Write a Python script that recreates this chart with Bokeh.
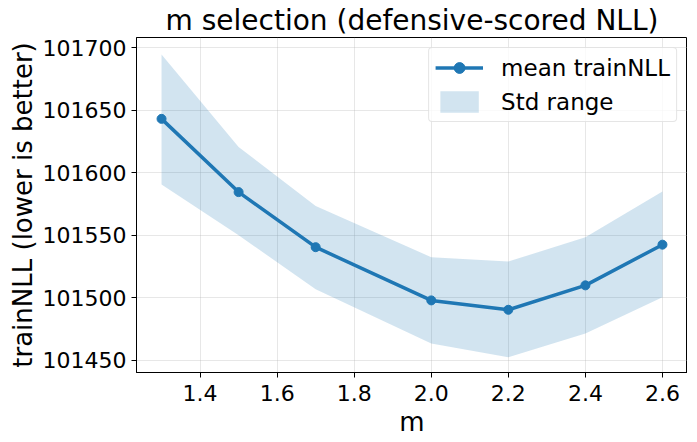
from bokeh.plotting import figure
from bokeh.models import Range1d, FixedTicker, NumeralTickFormatter, Legend, LegendItem, ColumnDataSource
from bokeh.embed import file_html
from bokeh.resources import INLINE

m_values = [1.3, 1.5, 1.7, 2.0, 2.2, 2.4, 2.6]
mean_nll = [101643, 101584.5, 101540.5, 101498, 101490.5, 101510, 101542.5]
std_upper = [101694.5, 101620.5, 101573.5, 101532.5, 101529, 101548.5, 101585]
std_lower = [101590.5, 101550, 101507, 101463.5, 101452.5, 101471.5, 101500.5]
x_ticks = [1.4, 1.6, 1.8, 2.0, 2.2, 2.4, 2.6]
y_ticks = [101450, 101500, 101550, 101600, 101650, 101700]

FONT = "DejaVu Sans"
BLUE = "#1f77b4"

src = ColumnDataSource(dict(m=m_values, mean=mean_nll, up=std_upper, lo=std_lower))

p = figure(frame_width=551, frame_height=335, output_backend="svg", toolbar_location=None,
           x_range=Range1d(1.235, 2.665), y_range=Range1d(101440.4, 101708),
           min_border_left=136, min_border_right=0, min_border_top=0, min_border_bottom=0)

p.title.text = "m selection (defensive-scored NLL)"
p.title.align = "center"
p.title.text_font = FONT
p.title.text_font_size = "28px"
p.title.text_font_style = "normal"
p.title.text_color = "black"
p.title.standoff = 2

band = p.varea(x="m", y1="lo", y2="up", source=src, fill_color=BLUE, fill_alpha=0.2)
line = p.line(x="m", y="mean", source=src, line_color=BLUE, line_width=3.5)
pts = p.scatter(x="m", y="mean", source=src, size=9, fill_color=BLUE, line_color=BLUE)

legend = Legend(items=[LegendItem(label="mean trainNLL", renderers=[line, pts]),
                       LegendItem(label="Std range", renderers=[band])],
                location="top_right")
legend.label_text_font = FONT
legend.label_text_font_size = "23px"
legend.label_text_color = "black"
legend.label_standoff = 18
legend.glyph_width = 48
legend.glyph_height = 27
legend.label_height = 27
legend.spacing = 7
legend.padding = 6
legend.margin = 10
legend.border_line_color = "#cccccc"
legend.border_line_width = 1
legend.border_radius = 4
legend.background_fill_alpha = 0.8
p.add_layout(legend)

p.xaxis.axis_label = "m"
p.yaxis.axis_label = "trainNLL (lower is better)"
p.xaxis.ticker = FixedTicker(ticks=x_ticks)
p.yaxis.ticker = FixedTicker(ticks=y_ticks)
p.xaxis.formatter = NumeralTickFormatter(format="0.0")
p.yaxis.formatter = NumeralTickFormatter(format="0")

for ax in (p.xaxis, p.yaxis):
    ax.axis_label_text_font = FONT
    ax.axis_label_text_font_size = "26px"
    ax.axis_label_text_font_style = "normal"
    ax.axis_label_text_color = "black"
    ax.major_label_text_font = FONT
    ax.major_label_text_font_size = "22px"
    ax.major_label_text_color = "black"
    ax.axis_line_color = "black"
    ax.major_tick_line_color = "black"
    ax.major_tick_out = 5
    ax.major_tick_in = 0
    ax.minor_tick_line_color = None
    ax.major_label_standoff = 5
    ax.axis_label_standoff = 2

p.xaxis.major_label_standoff = 7
p.xaxis.axis_label_standoff = 3

p.grid.grid_line_color = "#b0b0b0"
p.grid.grid_line_alpha = 0.3
p.grid.grid_line_width = 1
p.outline_line_color = "black"
p.outline_line_alpha = 1
p.outline_line_width = 1

open("out.html", "w").write(file_html(p, INLINE))
